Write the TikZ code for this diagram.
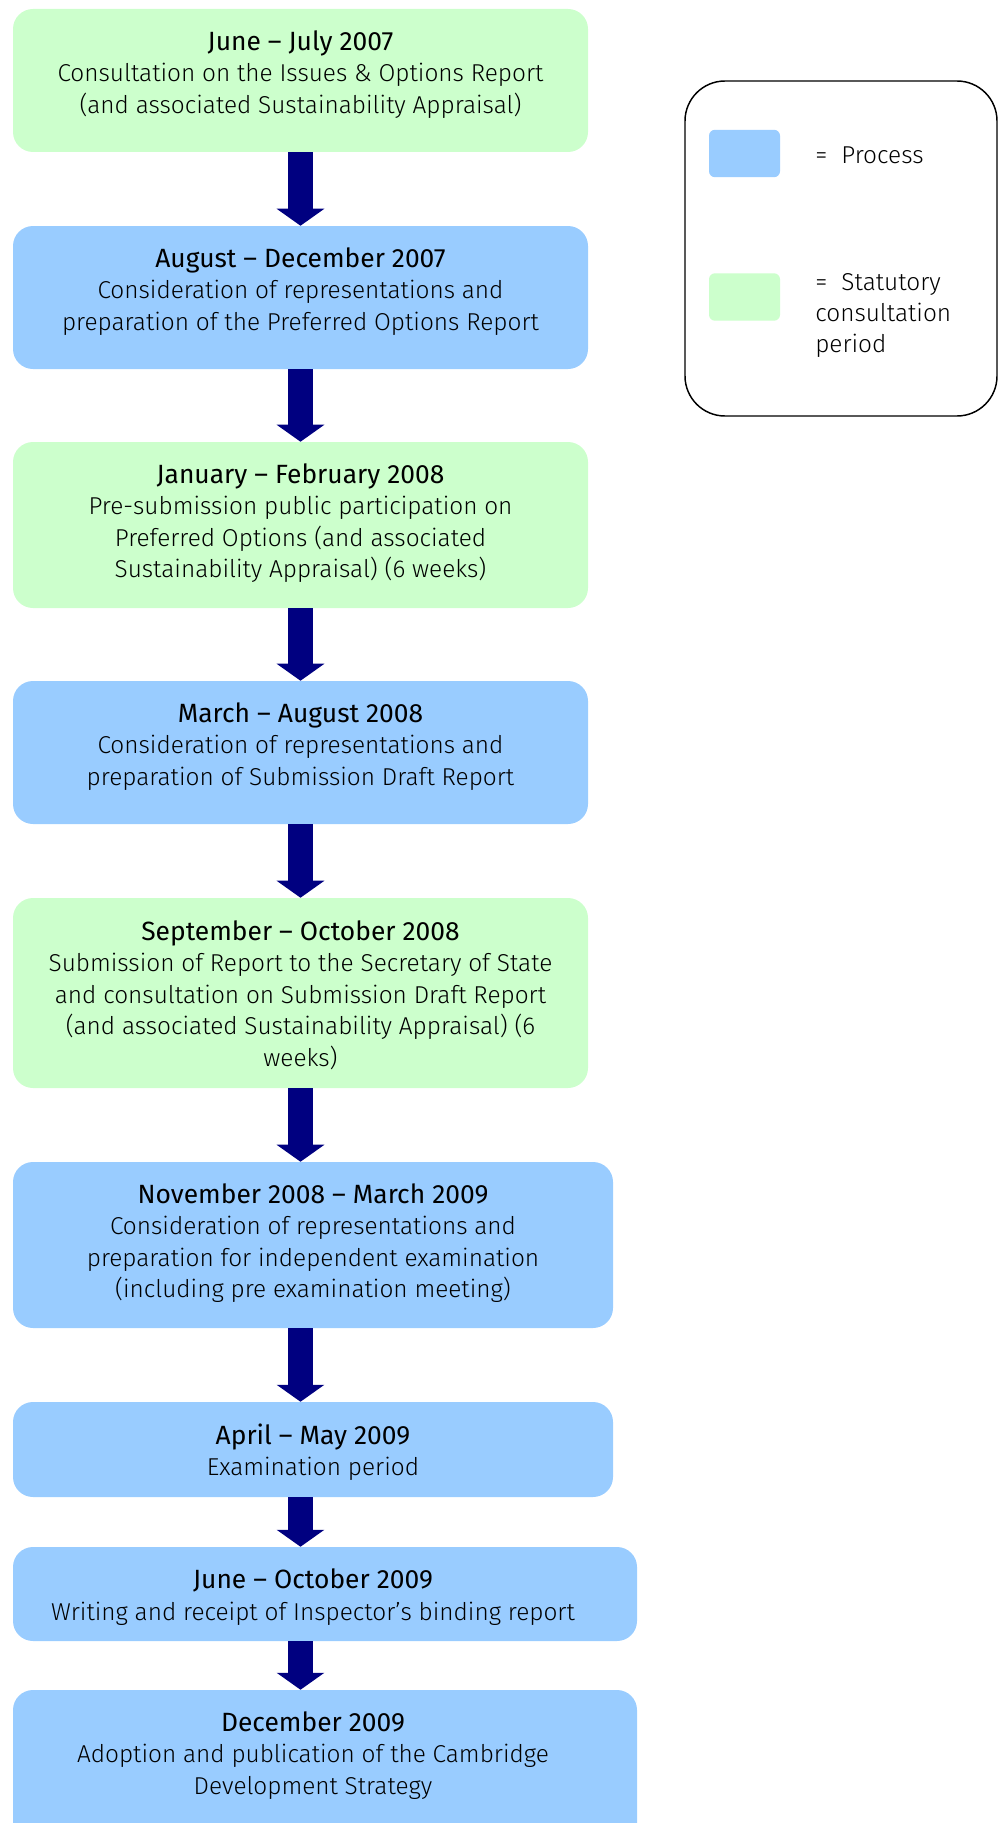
\documentclass[tikz,border=0pt]{standalone}
\usepackage{fontspec}
\setmainfont{Fira Sans Light}[BoldFont={Fira Sans}]
\usetikzlibrary{arrows.meta}
\definecolor{procblue}{HTML}{99CCFF}
\definecolor{statgreen}{HTML}{CCFFCC}
\definecolor{arrownavy}{HTML}{000080}
\newcommand{\hd}[1]{{\fontsize{19.8pt}{23.6pt}\selectfont\bfseries #1}}
\tikzset{
  box/.style={rounded corners=15pt, inner sep=0pt, draw=none},
  procbox/.style={box, fill=procblue},
  statbox/.style={box, fill=statgreen},
  boxtext/.style={align=center, inner sep=0pt, font=\fontsize{18.3pt}{23.6pt}\selectfont},
  flow/.style={draw=arrownavy, line width=18.75pt, -{Triangle[width=35.25pt,length=12.75pt,fill=arrownavy]}},
  legendbox/.style={draw=black, line width=1.1pt, rounded corners=30pt, fill=white, inner sep=0pt},
  swatch/.style={rounded corners=4.5pt, inner sep=0pt, minimum width=53.25pt, minimum height=35.6pt},
  legendtext/.style={align=left, inner sep=0pt, anchor=west, font=\fontsize{18.3pt}{23.6pt}\selectfont}
}
\begin{document}
\begin{tikzpicture}[x=0.75pt, y=-0.75pt]
\useasboundingbox (0,0) rectangle (1000,1823);
\clip (0,0) rectangle (1000,1823);
% boxes
\node[statbox, minimum width=431.25pt, minimum height=107.25pt] (b1) at (300.5,80.5) {};
\node[procbox, minimum width=431.25pt, minimum height=107.25pt] (b2) at (300.5,297.5) {};
\node[statbox, minimum width=431.25pt, minimum height=124.5pt] (b3) at (300.5,525) {};
\node[procbox, minimum width=431.25pt, minimum height=107.25pt] (b4) at (300.5,752.5) {};
\node[statbox, minimum width=431.25pt, minimum height=142.5pt] (b5) at (300.5,993) {};
\node[procbox, minimum width=450pt, minimum height=124.5pt] (b6) at (313,1245) {};
\node[procbox, minimum width=450pt, minimum height=71.25pt] (b7) at (313,1449.5) {};
\node[procbox, minimum width=468pt, minimum height=70.5pt] (b8) at (325,1594) {};
\node[procbox, minimum width=468pt, minimum height=135pt] (b9) at (325,1780) {};
% texts
\node[boxtext] (t1) at (300.5,74.5) {\hd{June – July 2007}\\Consultation on the Issues \& Options Report\\(and associated Sustainability Appraisal)};
\node[boxtext] (t2) at (300.5,291.5) {\hd{August – December 2007}\\Consideration of representations and\\preparation of the Preferred Options Report};
\node[boxtext] (t3) at (300.5,523) {\hd{January – February 2008}\\Pre-submission public participation on\\Preferred Options (and associated\\Sustainability Appraisal) (6 weeks)};
\node[boxtext] (t4) at (300.5,746.5) {\hd{March – August 2008}\\Consideration of representations and\\preparation of Submission Draft Report};
\node[boxtext] (t5) at (300.5,995) {\hd{September – October 2008}\\Submission of Report to the Secretary of State\\and consultation on Submission Draft Report\\(and associated Sustainability Appraisal) (6\\weeks)};
\node[boxtext] (t6) at (313,1243) {\hd{November 2008 – March 2009}\\Consideration of representations and\\preparation for independent examination\\(including pre examination meeting)};
\node[boxtext] (t7) at (313,1452) {\hd{April – May 2009}\\Examination period};
\node[boxtext] (t8) at (313,1597) {\hd{June – October 2009}\\Writing and receipt of Inspector’s binding report};
\node[boxtext] (t9) at (313,1755.5) {\hd{December 2009}\\Adoption and publication of the Cambridge\\Development Strategy};
% arrows
\draw[flow] (b1.south) -- (b2.north);
\draw[flow] (b2.south) -- (b3.north);
\draw[flow] (b3.south) -- (b4.north);
\draw[flow] (b4.south) -- (b5.north);
\draw[flow] (b5.south) -- (b5.south |- b6.north);
\draw[flow] (b6.south -| b5.south) -- (b7.north -| b5.south);
\draw[flow] (b7.south -| b5.south) -- (b8.north -| b5.south);
\draw[flow] (b8.south -| b5.south) -- (b9.north -| b5.south);
% legend
\node[legendbox, minimum width=234pt, minimum height=251.25pt] (lg) at (841,248.5) {};
\node[swatch, fill=procblue] (sw1) at (744.5,153.5) {};
\node[swatch, fill=statgreen] (sw2) at (744.5,297) {};
\node[legendtext] (l1) at (815,155) {=\hspace{0.3em} Process};
\node[legendtext] (l2) at (815,315.5) {=\hspace{0.3em} Statutory\\consultation\\period};
\end{tikzpicture}
\end{document}
